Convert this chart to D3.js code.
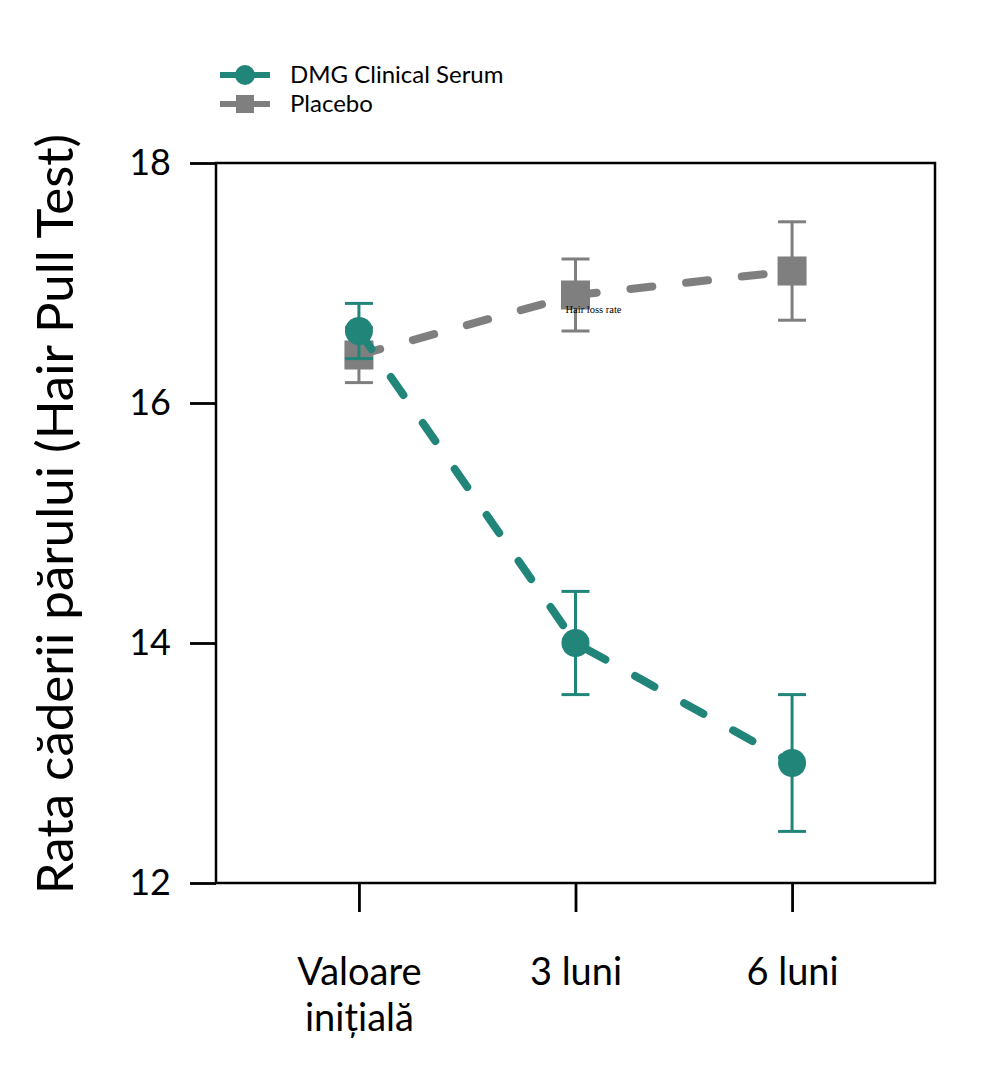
<!DOCTYPE html>
<html>
<head>
<meta charset="utf-8">
<script src="https://cdn.jsdelivr.net/npm/d3@7"></script>
<style>
  body { margin: 0; background: #fff; }
  text { font-family: Lato, "Noto Sans", sans-serif; }
</style>
</head>
<body>
<div id="container"></div>
<script>
/* DATA */
const categories = ["Valoare\ninițială", "3 luni", "6 luni"]
const dmgMean = [16.6, 14.0, 13.0]
const dmgErr = [0.23, 0.43, 0.57]
const placeboMean = [16.4, 16.9, 17.1]
const placeboErr = [0.23, 0.3, 0.41]
const yTicks = [12, 14, 16, 18]
const seriesNames = ["DMG Clinical Serum", "Placebo"]

/* CONSTANTS */
const width = 996,
  height = 1085,
  margin = { top: 163, bottom: 202, left: 216, right: 61 }

const teal = "#21857a",
  gray = "#7f7f7f"

const svg = d3.select("#container")
  .append("svg")
  .attr("width", width)
  .attr("height", height)

/* SCALES */
const xScale = d3.scalePoint()
  .domain(categories)
  .range([margin.left, width - margin.right])
  .padding(0.66)

const yScale = d3.scaleLinear()
  .domain([12, 18])
  .range([height - margin.bottom, margin.top])

/* AXES */
const yAxis = svg.append("g")
  .attr("transform", `translate(${margin.left},0)`)
  .call(d3.axisLeft(yScale).tickValues(yTicks).tickFormat(d3.format("d")).tickSize(26).tickPadding(19))
yAxis.select(".domain").remove()
yAxis.selectAll("line").attr("stroke", "#000").attr("stroke-width", 2.8)
yAxis.selectAll("text")
  .attr("font-size", 36)
  .attr("fill", "#000")
  .style("font-family", "Lato, sans-serif")

const xAxis = svg.append("g")
  .attr("transform", `translate(0,${height - margin.bottom})`)
  .call(d3.axisBottom(xScale).tickSize(29).tickFormat(""))
xAxis.select(".domain").remove()
xAxis.selectAll("line").attr("stroke", "#000").attr("stroke-width", 2.8)

// multi-line tick labels
xAxis.selectAll(".tick").each(function(d) {
  const t = d3.select(this).append("text")
    .attr("text-anchor", "middle")
    .attr("font-size", 38)
    .attr("fill", "#000")
  d.split("\n").forEach((s, i) => {
    t.append("tspan").attr("x", 0).attr("y", 102 + i * 46).text(s)
  })
})

// frame
svg.append("rect")
  .attr("x", margin.left)
  .attr("y", margin.top)
  .attr("width", width - margin.left - margin.right)
  .attr("height", height - margin.top - margin.bottom)
  .attr("fill", "none")
  .attr("stroke", "#000")
  .attr("stroke-width", 2.5)

// y label
svg.append("text")
  .attr("transform", "translate(73,514) rotate(-90)")
  .attr("text-anchor", "middle")
  .attr("font-size", 51)
  .attr("fill", "#000")
  .text("Rata căderii părului (Hair Pull Test)")

/* SERIES */
const series = [
  { name: seriesNames[1], mean: placeboMean, err: placeboErr, color: gray, shape: "square" },
  { name: seriesNames[0], mean: dmgMean, err: dmgErr, color: teal, shape: "circle" }
]

const line = d3.line()
  .x((d, i) => xScale(categories[i]))
  .y(d => yScale(d))

series.forEach(s => {
  const g = svg.append("g")

  g.append("path")
    .attr("d", line(s.mean))
    .attr("fill", "none")
    .attr("stroke", s.color)
    .attr("stroke-width", 8)
    .attr("stroke-linecap", "round")
    .attr("stroke-dasharray", "22 34")

  s.mean.forEach((m, i) => {
    const cx = xScale(categories[i])
    const top = yScale(m + s.err[i]),
      bot = yScale(m - s.err[i])
    g.append("line")
      .attr("x1", cx).attr("x2", cx)
      .attr("y1", top).attr("y2", bot)
      .attr("stroke", s.color).attr("stroke-width", 3)
    ;[top, bot].forEach(yy => {
      g.append("line")
        .attr("x1", cx - 14).attr("x2", cx + 14)
        .attr("y1", yy).attr("y2", yy)
        .attr("stroke", s.color).attr("stroke-width", 3)
    })
    if (s.shape === "circle") {
      g.append("circle")
        .attr("cx", cx).attr("cy", yScale(m)).attr("r", 14)
        .attr("fill", s.color)
    } else {
      g.append("rect")
        .attr("x", cx - 14.5).attr("y", yScale(m) - 14.5)
        .attr("width", 29).attr("height", 29)
        .attr("fill", s.color)
    }
  })
})

// stray annotation
svg.append("text")
  .attr("x", xScale(categories[1]) - 10)
  .attr("y", yScale(placeboMean[1]) + 18)
  .attr("font-size", 10.5)
  .style("font-family", "'Liberation Serif', serif")
  .attr("fill", "#000")
  .text("Hair loss rate")

/* LEGEND */
const legend = svg.append("g").attr("transform", "translate(220,75)")
const legendItems = [
  { name: seriesNames[0], color: teal, shape: "circle" },
  { name: seriesNames[1], color: gray, shape: "square" }
]
legendItems.forEach((d, i) => {
  const row = legend.append("g").attr("transform", `translate(0,${i * 29})`)
  row.append("line")
    .attr("x1", 0).attr("x2", 50)
    .attr("stroke", d.color).attr("stroke-width", 6)
  if (d.shape === "circle") {
    row.append("circle").attr("cx", 25).attr("r", 10).attr("fill", d.color)
  } else {
    row.append("rect").attr("x", 16).attr("y", -9).attr("width", 18).attr("height", 18).attr("fill", d.color)
  }
  row.append("text")
    .attr("x", 70)
    .attr("dy", "0.35em")
    .attr("font-size", 24)
    .attr("fill", "#000")
    .text(d.name)
})
</script>
</body>
</html>
